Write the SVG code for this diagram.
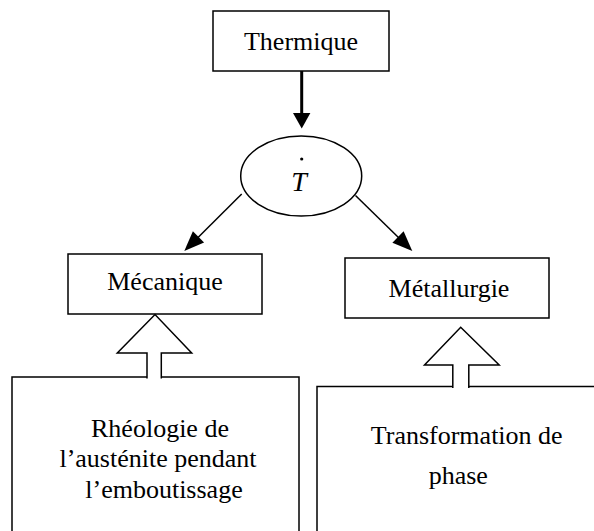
<svg xmlns="http://www.w3.org/2000/svg" width="594" height="531" viewBox="0 0 594 531">
<style>
.box{fill:#fff;stroke:#000;stroke-width:1.5}
.t{font-family:"Liberation Serif","Times New Roman",serif;font-size:26px;fill:#000;text-anchor:middle}
.ln{stroke:#000;stroke-width:1.5;fill:none}
.hd{fill:#000;stroke:none}
.hollow{fill:#fff;stroke:#000;stroke-width:1.5;stroke-linejoin:miter}
</style>
<rect width="594" height="531" fill="#fff"/>
<g id="thermique">
<rect class="box" x="213" y="11" width="176" height="60"/>
<text class="t" x="301" y="50">Thermique</text>
</g>
<g id="tdot">
<ellipse class="box" cx="301.2" cy="176" rx="60.5" ry="40"/>
<text class="t" x="299" y="190.5" style="font-style:italic;font-size:28px">T</text>
<circle cx="301.7" cy="159" r="1.6" fill="#000"/>
</g>
<g id="mecanique">
<rect class="box" x="68" y="254" width="194" height="60"/>
<text class="t" x="165" y="290">Mécanique</text>
</g>
<g id="metallurgie">
<rect class="box" x="345" y="258" width="204" height="60"/>
<text class="t" x="449" y="296.5">Métallurgie</text>
</g>
<g id="rheologie">
<rect class="box" x="12" y="377" width="287" height="170"/>
<text class="t" x="160" y="436.7">Rhéologie de</text>
<text class="t" x="158" y="466.7">l’austénite pendant</text>
<text class="t" x="164" y="497.5">l’emboutissage</text>
</g>
<g id="transformation">
<rect class="box" x="317" y="386.5" width="300" height="170"/>
<text class="t" x="466.7" y="444">Transformation de</text>
<text class="t" x="458.3" y="484">phase</text>
</g>
<g id="connectors">
<line x1="301.7" y1="71" x2="301.7" y2="114" stroke="#000" stroke-width="3"/>
<polygon class="hd" points="293,113 310.4,113 301.7,128.5"/>
<line class="ln" x1="241.7" y1="194" x2="196" y2="239.5"/>
<polygon class="hd" points="184.3,251 192.9,231.2 204.1,242.6"/>
<line class="ln" x1="355.5" y1="195.5" x2="400" y2="239"/>
<polygon class="hd" points="412.3,251 392.4,242.7 403.6,231.3"/>
<path class="hollow" d="M147,378.5 V353 H117.3 L155,314.5 L191.7,353 H161.3 V378.5"/>
<path class="hollow" d="M452.8,388 V365 H424.5 L460.7,327.3 L499.2,365 H468.8 V388"/>
</g>
</svg>
